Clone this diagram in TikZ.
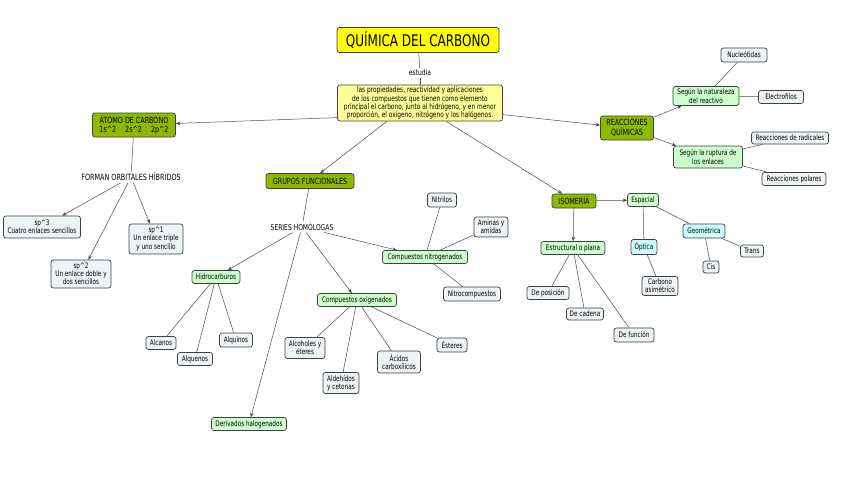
\documentclass[tikz,border=0pt]{standalone}
\usepackage{fontspec}
\setmainfont{DejaVu Sans}[FakeStretch=0.75]
\usetikzlibrary{arrows.meta}
\definecolor{colive}{HTML}{8DBA00}
\definecolor{cyellow}{HTML}{FFFF00}
\definecolor{cpale}{HTML}{FFFF99}
\definecolor{cgreen}{HTML}{CCFFCC}
\definecolor{ccyan}{HTML}{CCFFFF}
\definecolor{cleaf}{HTML}{EEF3F5}
\begin{document}
\begin{tikzpicture}[x=1pt,y=-1pt,
  base/.style={draw=black!75, line width=0.7pt, rounded corners=2.5pt, align=center, inner xsep=1.2pt, inner ysep=1pt},
  titlebox/.style={base, fill=cyellow, font=\fontsize{16}{18}\selectfont, minimum width=162pt, minimum height=25pt},
  mainbox/.style={base, fill=cpale, font=\fontsize{7.8}{8.3}\selectfont, minimum width=165pt, minimum height=36pt},
  oliv/.style={base, fill=colive, font=\fontsize{8.5}{9.5}\selectfont},
  grn/.style={base, fill=cgreen, font=\fontsize{7.6}{8.2}\selectfont},
  cyn/.style={base, fill=ccyan, font=\fontsize{7.6}{8.2}\selectfont},
  leaf/.style={base, fill=cleaf, font=\fontsize{7.6}{8.2}\selectfont},
  lbl/.style={font=\fontsize{8}{9}\selectfont, inner sep=1.5pt, fill=white},
  con/.style={draw=black!70, line width=0.5pt},
  arr/.style={con, -{Stealth[length=4.5pt,width=3.6pt]}},
]
\path[use as bounding box, fill=white] (0,0) rectangle (848,477);

% top
\node[titlebox] (title) at (418,40) {QUÍMICA DEL CARBONO};
\node[lbl] (estudia) at (420,73) {estudia};
\node[mainbox] (main) at (420,103) {las propiedades, reactividad y aplicaciones\\de los compuestos que tienen como elemento\\principal el carbono, junto al hidrógeno, y en menor\\proporción, el oxígeno, nitrógeno y los halógenos.};

% atom
\node[oliv, minimum width=83pt, minimum height=24pt] (atomo) at (134,125) {ÁTOMO DE CARBONO\\1s\textasciicircum2\hspace{9pt}2s\textasciicircum2\hspace{9pt}2p\textasciicircum2};
\node[lbl, font=\fontsize{8.6}{9.5}\selectfont] (forman) at (131,177) {FORMAN ORBITALES HÍBRIDOS};
\node[leaf, minimum width=77pt, minimum height=22pt] (sp3) at (42,227) {sp\textasciicircum3\\Cuatro enlaces sencillos};
\node[leaf, minimum width=54pt, minimum height=30pt] (sp1) at (156,239) {sp\textasciicircum1\\Un enlace triple\\y uno sencillo};
\node[leaf, minimum width=60pt, minimum height=28pt] (sp2) at (81,274) {sp\textasciicircum2\\Un enlace doble y\\dos sencillos};

% grupos funcionales
\node[oliv, minimum width=88pt, minimum height=15pt] (grupos) at (310,181) {GRUPOS FUNCIONALES};
\node[lbl] (series) at (302,227) {SERIES HOMÓLOGAS};
\node[grn, minimum width=48pt, minimum height=13pt] (hidro) at (216,277) {Hidrocarburos};
\node[leaf, minimum width=30pt, minimum height=13pt] (alcanos) at (161,343) {Alcanos};
\node[leaf, minimum width=35pt, minimum height=13pt] (alquenos) at (195,359) {Alquenos};
\node[leaf, minimum width=33pt, minimum height=14pt] (alquinos) at (236,340) {Alquinos};
\node[grn, minimum width=75pt, minimum height=13pt] (deriv) at (249,424) {Derivados halogenados};
\node[grn, minimum width=79pt, minimum height=13pt] (oxig) at (357,300) {Compuestos oxigenados};
\node[grn, minimum width=85pt, minimum height=13pt] (nitro) at (425,257) {Compuestos nitrogenados};
\node[leaf, minimum width=29pt, minimum height=14pt] (nitrilos) at (442,200) {Nitrilos};
\node[leaf, minimum width=34pt, minimum height=20pt] (aminas) at (491,227) {Aminas y\\amidas};
\node[leaf, minimum width=57pt, minimum height=14pt] (nitrocomp) at (472,294) {Nitrocompuestos};
\node[leaf, minimum width=40pt, minimum height=21pt] (alcoholes) at (305,348) {Alcoholes y\\éteres};
\node[leaf, minimum width=36pt, minimum height=21pt] (aldehidos) at (341,383) {Aldehídos\\y cetonas};
\node[leaf, minimum width=43pt, minimum height=22pt] (acidos) at (399,362) {Ácidos\\carboxílicos};
\node[leaf, minimum width=30pt, minimum height=14pt] (esteres) at (452,345) {Ésteres};

% reacciones
\node[oliv, minimum width=53pt, minimum height=24pt] (reac) at (627,128) {REACCIONES\\QUÍMICAS};
\node[grn, minimum width=66pt, minimum height=19pt] (natur) at (706,96) {Según la naturaleza\\del reactivo};
\node[leaf, minimum width=46pt, minimum height=14pt] (nucleo) at (744,55) {Nucleótidas};
\node[leaf, minimum width=45pt, minimum height=13pt] (electro) at (781,97) {Electrofilos};
\node[grn, minimum width=69pt, minimum height=22pt] (ruptura) at (708,157) {Según la ruptura de\\los enlaces};
\node[leaf, minimum width=77pt, minimum height=12pt] (radicales) at (790,138) {Reacciones de radicales};
\node[leaf, minimum width=64pt, minimum height=13pt] (polares) at (794,179) {Reacciones polares};

% isomeria
\node[oliv, minimum width=44pt, minimum height=14pt] (isom) at (574,201) {ISOMERÍA};
\node[grn, minimum width=31pt, minimum height=13pt] (espacial) at (643,200) {Espacial};
\node[grn, minimum width=64pt, minimum height=13pt] (estruct) at (573,248) {Estructural o plana};
\node[cyn, minimum width=26pt, minimum height=15pt] (optica) at (644,247) {Óptica};
\node[cyn, minimum width=42pt, minimum height=14pt] (geom) at (704,231) {Geométrica};
\node[leaf, minimum width=16pt, minimum height=12pt] (cis) at (711,267) {Cis};
\node[leaf, minimum width=23pt, minimum height=12pt] (trans) at (752,251) {Trans};
\node[leaf, minimum width=36pt, minimum height=19pt] (carbono) at (660,286) {Carbono\\asimétrico};
\node[leaf, minimum width=42pt, minimum height=13pt] (posicion) at (548,293) {De posición};
\node[leaf, minimum width=37pt, minimum height=12pt] (cadena) at (585,314) {De cadena};
\node[leaf, minimum width=40pt, minimum height=14pt] (funcion) at (634,335) {De función};

% connectors
\draw[con] (title) -- (estudia);
\draw[con] (estudia) -- (main);
\draw[arr] (main.190) -- (atomo);
\draw[arr] (main.352) -- (reac);
\draw[arr] (main.209) -- (grupos);
\draw[arr] (main.325) -- (isom);

\draw[con] (atomo) -- (forman);
\draw[arr] (forman) -- (sp3);
\draw[arr] (forman) -- (sp2);
\draw[arr] (forman) -- (sp1);

\draw[con] (grupos) -- (series);
\draw[arr] (series) -- (hidro);
\draw[arr] (series) -- (oxig);
\draw[arr] (series) -- (nitro);
\draw[arr] (series) -- (deriv);
\draw[con] (hidro) -- (alcanos);
\draw[con] (hidro) -- (alquenos);
\draw[con] (hidro) -- (alquinos);
\draw[con] (oxig) -- (alcoholes);
\draw[con] (oxig) -- (aldehidos);
\draw[con] (oxig) -- (acidos);
\draw[con] (oxig) -- (esteres);
\draw[con] (nitro) -- (nitrilos);
\draw[con] (nitro) -- (aminas);
\draw[con] (nitro) -- (nitrocomp);

\draw[arr] (reac) -- (natur);
\draw[arr] (reac) -- (ruptura);
\draw[con] (natur) -- (nucleo);
\draw[con] (natur) -- (electro);
\draw[con] (ruptura) -- (radicales);
\draw[con] (ruptura) -- (polares);

\draw[arr] (isom) -- (espacial);
\draw[arr] (isom) -- (estruct);
\draw[con] (espacial) -- (optica);
\draw[con] (espacial) -- (geom);
\draw[con] (geom) -- (cis);
\draw[con] (geom) -- (trans);
\draw[con] (optica) -- (carbono);
\draw[con] (estruct) -- (posicion);
\draw[con] (estruct) -- (cadena);
\draw[con] (estruct) -- (funcion);
\end{tikzpicture}
\end{document}
